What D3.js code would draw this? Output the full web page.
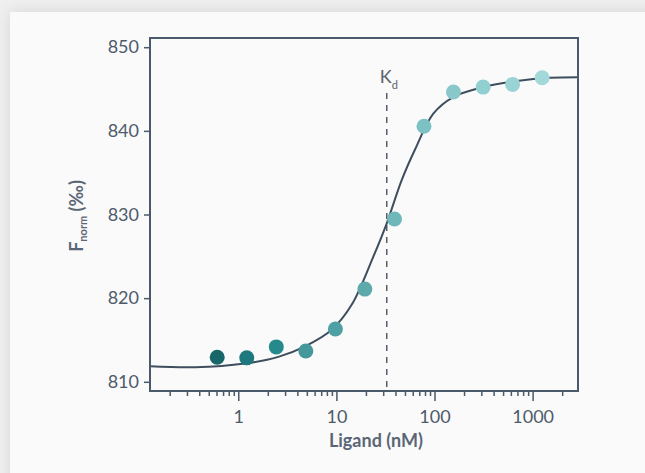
<!DOCTYPE html>
<html>
<head>
<meta charset="utf-8">
<script src="https://cdn.jsdelivr.net/npm/d3@7"></script>
<style>
  html, body { margin: 0; padding: 0; width: 645px; height: 473px; overflow: hidden; background: #efeff0; }
  #card { position: absolute; left: 10px; top: 12px; width: 700px; height: 520px; background: #fafafa;
          box-shadow: 0 0 14px rgba(0,0,0,0.10); }
  svg { position: absolute; left: 0; top: 0; }
  text { font-family: Lato, "Noto Sans", sans-serif; }
</style>
</head>
<body>
<div id="card"></div>
<svg id="chart" width="645" height="473"></svg>
<script>
// ---- data ----
const ligand = [0.61, 1.22, 2.44, 4.88, 9.77, 19.5, 39.1, 78.1, 156, 313, 625, 1250];
const fnorm  = [812.93, 812.86, 814.17, 813.69, 816.32, 821.08, 829.46, 840.55, 844.64, 845.23, 845.55, 846.35];
const pointColors = ["#16666a", "#1d797d", "#26898c", "#44979a", "#4fa0a4", "#5ea9ac",
                     "#70b7ba", "#7cc1c3", "#89c8ca", "#92cfd0", "#9ad3d4", "#a3d9da"];
// fitted curve
const fitX = [0.126, 0.362, 1.17, 2.56, 4.79, 8.96, 14.3, 23.8, 32.6, 46.3, 63.3, 97.2, 155.5, 314, 689, 1504, 2900];
const fitY = [811.86, 811.74, 812.18, 812.98, 814.24, 816.23, 819.2, 824.97, 828.95, 834.11, 837.77, 842.06, 844.04, 845.23, 845.95, 846.35, 846.42];
const kd = 32.6;
const xTickValues = [1, 10, 100, 1000];
const xTickLabels = ["1", "10", "100", "1000"];
const yTickValues = [810, 820, 830, 840, 850];
const xDomain = [0.126, 2900];
const yDomain = [808.9, 851.1];

// ---- layout ----
const L = 150, R = 578, T = 38, B = 391;
const axisColor = "#4a5a6a";
const svg = d3.select("#chart");

const x = d3.scaleLog().domain(xDomain).range([L, R]);
const y = d3.scaleLinear().domain(yDomain).range([B, T]);

// minor ticks
const minor = [];
for (let e = -1; e <= 3; e++) for (let m = 2; m <= 9; m++) {
  const v = m * Math.pow(10, e);
  if (v > xDomain[0] && v < xDomain[1]) minor.push(v);
}

// x axis (bottom) major
const xAxisMaj = d3.axisBottom(x).tickValues(xTickValues).tickFormat((d, i) => xTickLabels[i]).tickSize(10).tickPadding(9);
const gx = svg.append("g").attr("transform", `translate(0,${B})`).call(xAxisMaj);
gx.select(".domain").remove();
gx.selectAll("line").attr("stroke", axisColor).attr("stroke-width", 1.5);
gx.selectAll("text").attr("fill", "#4d5b6b").style("font-size", "18px").attr("dy", "0.71em");

const xAxisMin = d3.axisBottom(x).tickValues(minor).tickFormat("").tickSize(5);
const gxm = svg.append("g").attr("transform", `translate(0,${B})`).call(xAxisMin);
gxm.select(".domain").remove();
gxm.selectAll("line").attr("stroke", axisColor).attr("stroke-width", 1.5);

// y axis
const yAxis = d3.axisLeft(y).tickValues(yTickValues).tickFormat(d3.format("d")).tickSize(6).tickPadding(5);
const gy = svg.append("g").attr("transform", `translate(${L},0)`).call(yAxis);
gy.select(".domain").remove();
gy.selectAll("line").attr("stroke", axisColor).attr("stroke-width", 1.5);
gy.selectAll("text").attr("fill", "#4d5b6b").style("font-size", "18px");

// Kd dashed line
svg.append("line")
  .attr("x1", x(kd)).attr("x2", x(kd))
  .attr("y1", 93).attr("y2", B)
  .attr("stroke", "#55606c").attr("stroke-width", 1.5)
  .attr("stroke-dasharray", "6,6");

const kdLabel = svg.append("text").attr("x", x(kd) - 7).attr("y", 83)
  .attr("fill", "#5c636b").style("font-size", "18px").style("font-weight", 400);
kdLabel.append("tspan").text("K");
kdLabel.append("tspan").attr("dy", 6).style("font-size", "11px").text("d");

// fitted curve
const fit = fitX.map((v, i) => [v, fitY[i]]);
svg.append("path").datum(fit)
  .attr("fill", "none").attr("stroke", "#3e4e5e").attr("stroke-width", 2)
  .attr("d", d3.line().x(d => x(d[0])).y(d => y(d[1])).curve(d3.curveCatmullRom.alpha(0.5)));

// points
svg.append("g").selectAll("circle").data(ligand).join("circle")
  .attr("cx", d => x(d)).attr("cy", (d, i) => y(fnorm[i])).attr("r", 7.5)
  .attr("fill", (d, i) => pointColors[i]);

// frame
svg.append("rect").attr("x", L).attr("y", T).attr("width", R - L).attr("height", B - T)
  .attr("fill", "none").attr("stroke", axisColor).attr("stroke-width", 2);

// axis titles
const xt = svg.append("text").attr("x", 376).attr("y", 447).attr("text-anchor", "middle")
  .attr("fill", "#5a6675").style("font-size", "18px").style("font-weight", 700);
xt.append("tspan").text("Ligand ");
xt.append("tspan").text("(nM)");

const yt = svg.append("text").attr("transform", `translate(83,216) rotate(-90)`).attr("text-anchor", "middle")
  .attr("fill", "#5a6675").style("font-size", "18px").style("font-weight", 700);
yt.append("tspan").text("F");
yt.append("tspan").attr("dy", 4).style("font-size", "11px").text("norm");
yt.append("tspan").attr("dy", -4).text(" (‰)");
</script>
</body>
</html>
